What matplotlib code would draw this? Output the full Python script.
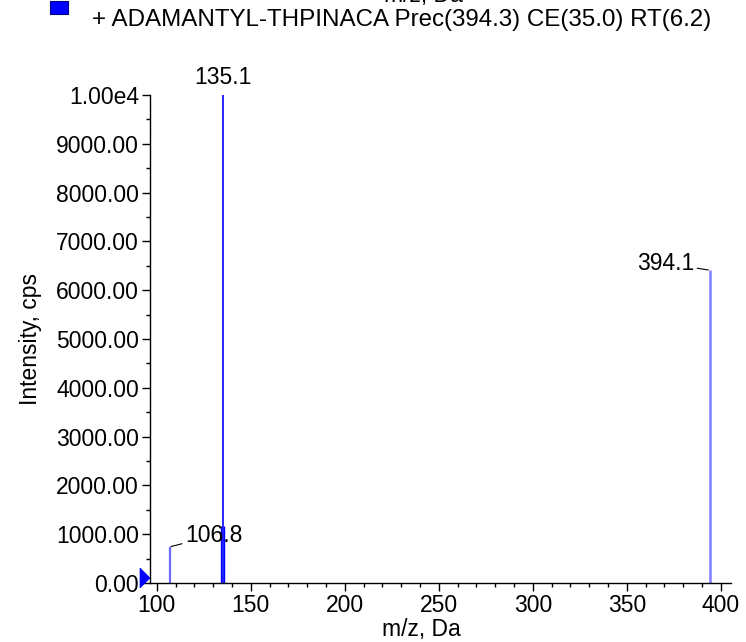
import matplotlib
matplotlib.use("Agg")
import matplotlib.pyplot as plt
from matplotlib.patches import Rectangle, Polygon
from matplotlib.ticker import MultipleLocator, FixedLocator, FixedFormatter

plt.rcParams["font.family"] = ["Liberation Sans", "DejaVu Sans"]
plt.rcParams["font.size"] = 16.5

# peak list (m/z, intensity in cps)
mz = [106.8, 134.4, 135.1, 135.8, 394.1]
intensity = [740, 1170, 10000, 1170, 6410]
peak_colors = ["#6b6bff", "#0000ff", "#0000ff", "#0000ff", "#7f7fff"]
peak_widths = [1.6, 1.0, 1.2, 1.0, 1.8]

yticks = [0, 1000, 2000, 3000, 4000, 5000, 6000, 7000, 8000, 9000, 10000]
ytick_labels = ["0.00", "1000.00", "2000.00", "3000.00", "4000.00", "5000.00",
                "6000.00", "7000.00", "8000.00", "9000.00", "1.00e4"]
xticks = [100, 150, 200, 250, 300, 350, 400]

legend_text = "+ ADAMANTYL-THPINACA Prec(394.3) CE(35.0) RT(6.2)"

W, H = 746, 642
fig = plt.figure(figsize=(W / 100, H / 100), dpi=100)
ax = fig.add_axes([150 / W, 1 - 583 / H, 580.7 / W, 488 / H])

for x, y, c, lw in zip(mz, intensity, peak_colors, peak_widths):
    ax.vlines(x, 0, y, colors=c, lw=lw, clip_on=False)

ax.set_xlim(96.4, 405.3)
ax.set_ylim(0, 10000)

ax.spines["top"].set_visible(False)
ax.spines["right"].set_visible(False)
ax.spines["left"].set_linewidth(1.0)
ax.spines["bottom"].set_linewidth(1.0)

ax.yaxis.set_major_locator(FixedLocator(yticks))
ax.yaxis.set_major_formatter(FixedFormatter(ytick_labels))
ax.yaxis.set_minor_locator(MultipleLocator(500))
ax.xaxis.set_major_locator(FixedLocator(xticks))
ax.xaxis.set_minor_locator(MultipleLocator(10))
ax.tick_params(which="major", direction="out", length=6, width=1, pad=2)
ax.tick_params(which="minor", direction="out", length=3, width=1)

ax.set_xlabel("m/z, Da")
ax.xaxis.set_label_coords(0.468, -0.072)
ax.set_ylabel("Intensity, cps")
ax.yaxis.set_label_coords(-0.186, 0.5)

# start-of-range marker, tip on the y axis
fig.patches.append(Polygon([(140 / W, 1 - 568 / H), (150 / W, 1 - 578 / H),
                            (140 / W, 1 - 588 / H)], closed=True,
                           transform=fig.transFigure, facecolor="#0000ff",
                           edgecolor="#0000ff", lw=0.5))

# peak labels
ax.annotate("135.1", xy=(135.1, 10000), xytext=(0, 4), textcoords="offset points",
            ha="center", va="bottom", annotation_clip=False)
ax.annotate("394.1", xy=(394.1, 6410), xytext=(-11, 5), textcoords="offset points",
            ha="right", va="center",
            arrowprops=dict(arrowstyle="-", color="black", lw=0.8,
                            shrinkA=0, shrinkB=1))
ax.annotate("106.8", xy=(106.8, 740), xytext=(11, 8), textcoords="offset points",
            ha="left", va="center",
            arrowprops=dict(arrowstyle="-", color="black", lw=0.8,
                            shrinkA=0, shrinkB=1))

# legend / header
fig.patches.append(Rectangle((50 / W, 1 - 14 / H), 18 / W, 13 / H,
                             transform=fig.transFigure, facecolor="#0000ff",
                             edgecolor="#000080", lw=0.8))
fig.text(92 / W, 1 - 20 / H, legend_text, ha="left", va="center", fontsize=17.4)
fig.text(423 / W, 1 - 2 / H, "m/z, Da", ha="center", va="baseline")

fig.savefig("out.png", dpi=100)
